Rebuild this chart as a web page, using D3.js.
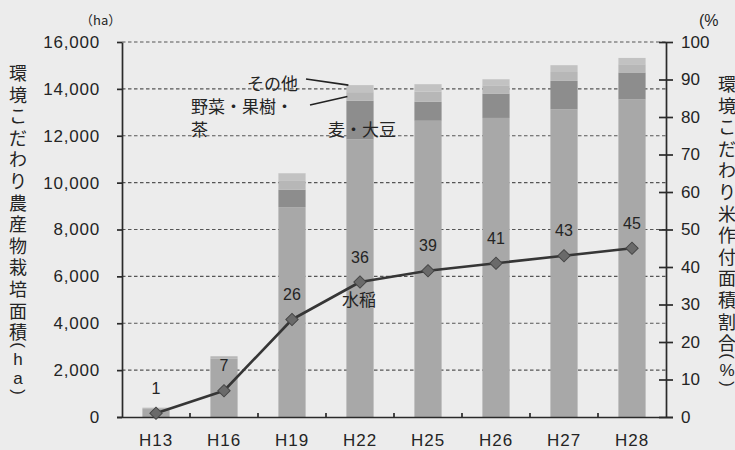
<!DOCTYPE html>
<html>
<head>
<meta charset="utf-8">
<script src="https://cdn.jsdelivr.net/npm/d3@7"></script>
<style>
  body { margin: 0; background: #ececec; }
  svg { display: block; }
</style>
</head>
<body>
<svg id="chart" width="735" height="450"></svg>
<script>
// Fiscal years (Heisei)
const years = ["H13", "H16", "H19", "H22", "H25", "H26", "H27", "H28"];

// Cultivated area of eco-conscious crops (ha), by crop group
const rice        = [340, 2500, 8950, 11850, 12640, 12760, 13130, 13560];
const wheatSoy    = [0, 0, 750, 1640, 810, 1040, 1210, 1140];
const vegFruitTea = [40, 60, 400, 370, 430, 350, 380, 350];
const others      = [20, 40, 300, 300, 320, 260, 290, 270];

// Share of eco-conscious rice in total rice planted area (%)
const riceShare = [1, 7, 26, 36, 39, 41, 43, 45];

// Axis ticks
const areaTicks  = [0, 2000, 4000, 6000, 8000, 10000, 12000, 14000, 16000];
const shareTicks = [0, 10, 20, 30, 40, 50, 60, 70, 80, 90, 100];

// Stack order and fills (bottom to top)
const seriesKeys   = ["水稲", "麦・大豆", "野菜・果樹・茶", "その他"];
const seriesValues = [rice, wheatSoy, vegFruitTea, others];
const seriesFills  = ["#a8a8a8", "#8d8d8d", "#b7b7b7", "#c2c2c2"];

const svg = d3.select("#chart");
const plotL = 122, plotR = 666, plotT = 42, plotB = 417;
const ink = "#242424";
const numFont = "'Liberation Sans', Arial, sans-serif";
const jpFont = "'Noto Sans CJK JP', 'Noto Sans', sans-serif";

svg.append("rect").attr("width", 735).attr("height", 450).attr("fill", "#ececec");

const x = d3.scaleBand().domain(years).range([plotL, plotR])
  .paddingInner(0.6).paddingOuter(0.3);
const yL = d3.scaleLinear().domain([0, 16000]).range([plotB, plotT]);
const yR = d3.scaleLinear().domain([0, 100]).range([plotB, plotT]);

// Dashed horizontal grid
svg.append("g").selectAll("line")
  .data(areaTicks.filter(d => d > 0))
  .join("line")
  .attr("x1", plotL).attr("x2", plotR)
  .attr("y1", d => yL(d)).attr("y2", d => yL(d))
  .attr("stroke", "#555").attr("stroke-width", 1.2)
  .attr("stroke-dasharray", "3.5,2.5");

// Stacked bars
const table = years.map((yr, i) => {
  const row = { year: yr };
  seriesKeys.forEach((k, j) => { row[k] = seriesValues[j][i]; });
  return row;
});
const stacked = d3.stack().keys(seriesKeys)(table);

svg.append("g").selectAll("g")
  .data(stacked)
  .join("g")
  .attr("fill", (d, i) => seriesFills[i])
  .selectAll("rect")
  .data(d => d)
  .join("rect")
  .attr("x", d => x(d.data.year))
  .attr("width", x.bandwidth())
  .attr("y", d => yL(d[1]))
  .attr("height", d => Math.max(0, yL(d[0]) - yL(d[1])));

// Left axis
const axL = svg.append("g")
  .attr("transform", `translate(${plotL},0)`)
  .call(d3.axisLeft(yL).tickValues(areaTicks).tickSize(5).tickSizeOuter(0)
    .tickPadding(17).tickFormat(d3.format(",")));
axL.selectAll("text").attr("font-family", numFont).attr("font-size", 17)
  .attr("letter-spacing", "0.8px").attr("fill", ink);

// Right axis (ticks cross the line)
const axR = svg.append("g")
  .attr("transform", `translate(${plotR},0)`)
  .call(d3.axisRight(yR).tickValues(shareTicks).tickSize(7).tickSizeOuter(0).tickPadding(8));
axR.selectAll(".tick line").attr("x1", -7);
axR.selectAll("text").attr("font-family", numFont).attr("font-size", 17).attr("fill", ink);

// Bottom axis: labels at category centres, small ticks between categories
const axB = svg.append("g")
  .attr("transform", `translate(0,${plotB})`)
  .call(d3.axisBottom(x).tickSize(0).tickSizeOuter(0).tickPadding(17));
axB.select(".domain").attr("d", `M${plotL - 5},0.5H${plotR + 7}`);
axB.selectAll("text").attr("font-family", numFont).attr("font-size", 17)
  .attr("letter-spacing", "1px").attr("fill", ink);
axB.append("g").selectAll("line")
  .data(years.slice(1))
  .join("line")
  .attr("x1", d => x(d) - x.step() * x.paddingInner() / 2)
  .attr("x2", d => x(d) - x.step() * x.paddingInner() / 2)
  .attr("y1", -4).attr("y2", 0);

[axL, axR, axB].forEach(g => {
  g.selectAll(".domain, line").attr("stroke", "#2a2a2a").attr("stroke-width", 1.7);
});

// Share line with diamond markers
const cx = yr => x(yr) + x.bandwidth() / 2;
svg.append("path")
  .datum(riceShare)
  .attr("fill", "none")
  .attr("stroke", "#363636").attr("stroke-width", 2.6)
  .attr("stroke-linejoin", "round")
  .attr("d", d3.line().x((d, i) => cx(years[i])).y(d => yR(d)));

svg.append("g").selectAll("path")
  .data(riceShare)
  .join("path")
  .attr("d", d3.symbol(d3.symbolSquare, 76))
  .attr("transform", (d, i) => `translate(${cx(years[i])},${yR(d)}) rotate(45)`)
  .attr("fill", "#6a6a6a").attr("stroke", "#464646").attr("stroke-width", 1);

svg.append("g").selectAll("text")
  .data(riceShare)
  .join("text")
  .attr("x", (d, i) => cx(years[i]))
  .attr("y", d => yR(d) - 25)
  .attr("text-anchor", "middle").attr("dominant-baseline", "central")
  .attr("font-family", numFont).attr("font-size", 16).attr("fill", ink)
  .text(d => d);

// Unit captions
svg.append("text").attr("x", 80).attr("y", 25)
  .attr("font-family", jpFont).attr("font-size", 13).attr("fill", ink).text("（ha）");
svg.append("text").attr("x", 699).attr("y", 26)
  .attr("font-family", numFont).attr("font-size", 16).attr("fill", ink).text("(%");

// Vertical axis titles, one glyph per row; brackets drawn turned
function verticalTitle(chars, xc, y0) {
  const g = svg.append("g");
  let y = y0;
  const bracket = ch => ch === "(" || ch === ")";
  const latin = ch => /[a-z%]/.test(ch);
  chars.forEach((c, i) => {
    if (i > 0) {
      const prev = chars[i - 1];
      y += bracket(c) || bracket(prev) ? 14 : (latin(c) || latin(prev) ? 19 : 21.6);
    }
    const t = g.append("text")
      .attr("x", xc).attr("y", y)
      .attr("text-anchor", "middle").attr("dominant-baseline", "central")
      .attr("fill", ink)
      .text(c);
    if (bracket(c)) {
      t.attr("font-family", numFont).attr("font-size", 17)
        .attr("transform", `rotate(90,${xc},${y})`);
    } else if (latin(c)) {
      t.attr("font-family", numFont).attr("font-size", 17);
    } else {
      t.attr("font-family", jpFont).attr("font-size", 18);
    }
  });
}
verticalTitle(Array.from("環境こだわり農産物栽培面積(ha)"), 18, 72);
verticalTitle(Array.from("環境こだわり米作付面積割合(%)"), 727, 83);

// Series annotations with leader lines
const annot = svg.append("g").attr("font-family", jpFont).attr("font-size", 17).attr("fill", ink);
const h22 = years.indexOf("H22");
const barLeft = x("H22");
const topOthers = yL(stacked[3][h22][1]);
const midVeg = yL((stacked[2][h22][0] + stacked[2][h22][1]) / 2);

annot.append("text").attr("x", 247).attr("y", 82).attr("dominant-baseline", "central").text("その他");
annot.append("text").attr("x", 191).attr("y", 105).attr("dominant-baseline", "central").text("野菜・果樹・");
annot.append("text").attr("x", 191).attr("y", 128).attr("dominant-baseline", "central").text("茶");
annot.append("text").attr("x", 328).attr("y", 128).attr("dominant-baseline", "central").text("麦・大豆");
annot.append("text").attr("x", 342).attr("y", 298).attr("dominant-baseline", "central").text("水稲");

svg.append("line").attr("x1", 306).attr("y1", 79).attr("x2", barLeft + 2).attr("y2", topOthers)
  .attr("stroke", "#222").attr("stroke-width", 1.6);
svg.append("line").attr("x1", 310).attr("y1", 105).attr("x2", barLeft + 1).attr("y2", midVeg)
  .attr("stroke", "#222").attr("stroke-width", 1.6);
</script>
</body>
</html>
